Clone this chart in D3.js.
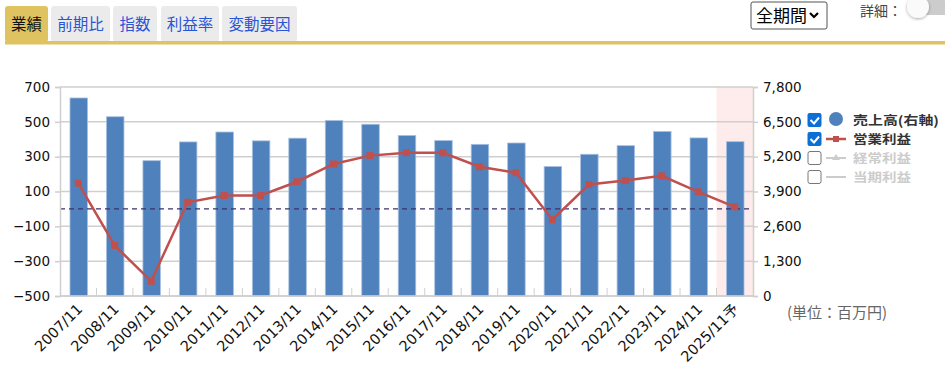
<!DOCTYPE html>
<html><head><meta charset="utf-8">
<script src="https://cdn.jsdelivr.net/npm/d3@7/dist/d3.min.js"></script>
<style>
body{margin:0;background:#fff;}
svg{display:block;font-family:"DejaVu Sans",Verdana,sans-serif;}
</style></head>
<body><svg id="c" width="945" height="367"></svg>
<script>
const categories = ["2007/11","2008/11","2009/11","2010/11","2011/11","2012/11","2013/11","2014/11","2015/11","2016/11","2017/11","2018/11","2019/11","2020/11","2021/11","2022/11","2023/11","2024/11","2025/11予"];
const sales = [7390,6690,5050,5750,6120,5790,5890,6550,6410,5990,5800,5660,5710,4830,5290,5610,6140,5900,5760];
const opProfit = [148,-210,-415,38,77,77,156,258,306,323,322,242,208,-62,140,163,190,98,12];
const leftTicks = [-500,-300,-100,100,300,500,700];
const rightTicks = [0,1300,2600,3900,5200,6500,7800];
const tabs = ["業績","前期比","指数","利益率","変動要因"];
const legendItems = [
  {label:"売上高(右軸)", checked:true, type:"circle", color:"#4f81bd"},
  {label:"営業利益", checked:true, type:"line", color:"#c0504d"},
  {label:"経常利益", checked:false, type:"tri", color:"#ccc"},
  {label:"当期利益", checked:false, type:"plain", color:"#ccc"}
];

const svg = d3.select("#c");
const CJK = '"Noto Sans CJK JP","DejaVu Sans",sans-serif';

// Tabs
const tabX = [5,51,113,161,222], tabW = [43,59,44,58,75];
tabs.forEach((t,i)=>{
  svg.append("rect").attr("x",tabX[i]).attr("y",6).attr("width",tabW[i]).attr("height",36)
    .attr("rx",3).attr("fill", i===0?"#dfc360":"#ebebeb");
  svg.append("text").attr("x",tabX[i]+tabW[i]/2).attr("y",30).attr("text-anchor","middle")
    .style("font-family",CJK).style("font-size","15.5px").attr("fill", i===0?"#111":"#2a55d6").text(t);
});
svg.append("rect").attr("x",5).attr("y",41).attr("width",940).attr("height",3.5).attr("fill","#dfc360");

// dropdown
svg.append("rect").attr("x",751).attr("y",2).attr("width",76).attr("height",27).attr("rx",2)
  .attr("fill","#fff").attr("stroke","#555");
svg.append("text").attr("x",756).attr("y",22).style("font-family",CJK).style("font-size","17px").attr("fill","#000").text("全期間");
svg.append("path").attr("d","M810,13 l4,4 l4,-4").attr("fill","none").attr("stroke","#000").attr("stroke-width",2.2);
svg.append("text").attr("x",860).attr("y",16).style("font-family",CJK).style("font-size","14px").attr("fill","#444").text("詳細：");
svg.append("rect").attr("x",910).attr("y",0).attr("width",40).attr("height",15).attr("rx",7).attr("fill","#ccc");
const defs = svg.append("defs");
const f = defs.append("filter").attr("id","sh").attr("x","-50%").attr("y","-50%").attr("width","200%").attr("height","200%");
f.append("feDropShadow").attr("dx",0).attr("dy",1).attr("stdDeviation",1.5).attr("flood-opacity",0.35);
svg.append("circle").attr("cx",918).attr("cy",7).attr("r",11).attr("fill","#fafafa").attr("filter","url(#sh)");

// Chart
const L=60, R=753, T=87, B=296;
const x = d3.scaleBand().domain(categories).range([L,R]).paddingInner(0).paddingOuter(0);
const yL = d3.scaleLinear().domain([-500,700]).range([B,T]);
const yR = d3.scaleLinear().domain([0,7800]).range([B,T]);

// forecast highlight
svg.append("rect").attr("x",x(categories[18])).attr("y",T).attr("width",x.bandwidth()).attr("height",B-T).attr("fill","#fdeceb");

// gridlines
svg.append("g").selectAll("line").data(leftTicks).join("line")
  .attr("x1",L).attr("x2",R).attr("y1",d=>yL(d)).attr("y2",d=>yL(d))
  .attr("stroke","#cfcfcf").attr("stroke-width",1.5);

// category separator ticks
svg.append("g").selectAll("line").data(categories.slice(1)).join("line")
  .attr("x1",d=>x(d)).attr("x2",d=>x(d)).attr("y1",B-8).attr("y2",B)
  .attr("stroke","#cfcfcf").attr("stroke-width",1);

// bars
const bw = x.bandwidth()*0.48;
svg.append("g").selectAll("rect").data(sales).join("rect")
  .attr("x",(d,i)=>x(categories[i])+x.bandwidth()/2-bw/2+0.5)
  .attr("y",d=>yR(d)).attr("width",bw).attr("height",d=>B-yR(d))
  .attr("fill","#4f81bd").attr("stroke","#a8c0e0").attr("stroke-width",0.8);

// zero dashed line
svg.append("line").attr("x1",L).attr("x2",R).attr("y1",yL(0)).attr("y2",yL(0))
  .attr("stroke","#3d2f6b").attr("stroke-width",1.2).attr("stroke-dasharray","5,4");

// axes
const axL = svg.append("g").attr("transform",`translate(${L},0)`)
  .call(d3.axisLeft(yL).tickValues(leftTicks).tickSize(5).tickPadding(5).tickFormat(d3.format("d")));
const axR = svg.append("g").attr("transform",`translate(${R},0)`)
  .call(d3.axisRight(yR).tickValues(rightTicks).tickSize(5).tickPadding(5).tickFormat(d3.format(",")));
[axL,axR].forEach(a=>{
  a.select(".domain").attr("stroke","#cfcfcf").attr("stroke-width",1.5);
  a.selectAll(".tick line").attr("stroke","#cfcfcf").attr("stroke-width",1.5);
  a.selectAll("text").style("font-size","13.5px").attr("fill","#111").style("font-family","DejaVu Sans, Verdana, sans-serif");
});
svg.append("line").attr("x1",L).attr("x2",R).attr("y1",B).attr("y2",B).attr("stroke","#cfcfcf").attr("stroke-width",1.5);

// x labels
svg.append("g").selectAll("text").data(categories).join("text")
  .attr("transform",d=>`translate(${x(d)+x.bandwidth()/2+5},${B+14}) rotate(-45)`)
  .attr("text-anchor","end").style("font-size","14.5px").style("font-family",'"DejaVu Sans","Noto Sans CJK JP",sans-serif')
  .attr("fill","#111").text(d=>d);

// line
const line = d3.line().x((d,i)=>x(categories[i])+x.bandwidth()/2).y(d=>yL(d));
svg.append("path").datum(opProfit).attr("d",line).attr("fill","none").attr("stroke","#c0504d").attr("stroke-width",2.5);
svg.append("g").selectAll("rect").data(opProfit).join("rect")
  .attr("x",(d,i)=>x(categories[i])+x.bandwidth()/2-3.5).attr("y",d=>yL(d)-3.5)
  .attr("width",7).attr("height",7).attr("fill","#c0504d");

// legend
const lg = svg.append("g");
const rowsY = [120,139,158,177];
legendItems.forEach((it,i)=>{
  const y = rowsY[i];
  if(it.checked){
    lg.append("rect").attr("x",807.5).attr("y",y-7).attr("width",14).attr("height",14).attr("rx",2).attr("fill","#0b6fd6");
    lg.append("path").attr("d",`M810.5,${y} l3.5,3.5 l5,-6`).attr("fill","none").attr("stroke","#fff").attr("stroke-width",2);
  } else {
    lg.append("rect").attr("x",808).attr("y",y-6.5).attr("width",13).attr("height",13).attr("rx",2).attr("fill","#fff").attr("stroke","#777").attr("stroke-width",1);
  }
  if(it.type==="circle"){
    lg.append("circle").attr("cx",836).attr("cy",y-1).attr("r",7).attr("fill",it.color);
  } else {
    lg.append("line").attr("x1",826).attr("x2",846).attr("y1",y).attr("y2",y).attr("stroke",it.color).attr("stroke-width",it.type==="line"?2.5:2);
    if(it.type==="line") lg.append("rect").attr("x",833).attr("y",y-3).attr("width",6).attr("height",6).attr("fill",it.color);
    if(it.type==="tri") lg.append("path").attr("d",`M836,${y-4} l4,6 l-8,0 z`).attr("fill",it.color);
  }
  lg.append("text").attr("x",853).attr("y",y+5).style("font-family",CJK).style("font-size","12.5px").style("font-weight","bold")
    .attr("fill",it.checked?"#333":"#ccc").attr("textLength",i===0?86:58).attr("lengthAdjust","spacingAndGlyphs").text(it.label);
});

svg.append("text").attr("x",787).attr("y",318).style("font-family",CJK).style("font-size","15px").attr("fill","#666").text("(単位：百万円)");
</script></body></html>
